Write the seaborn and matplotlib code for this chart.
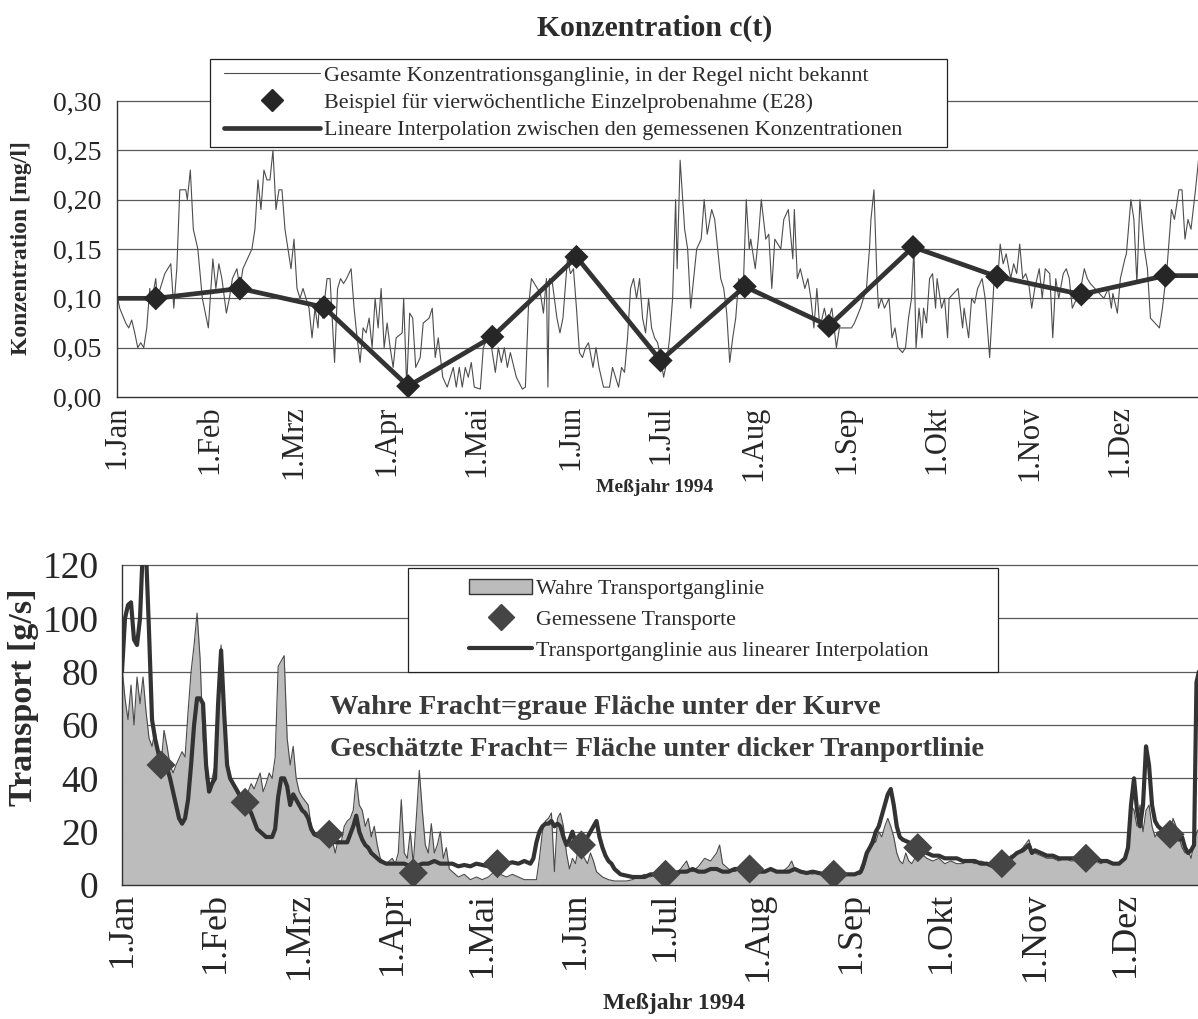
import matplotlib
matplotlib.use("Agg")
import matplotlib.pyplot as plt
from matplotlib.lines import Line2D
from matplotlib.patches import Patch
from matplotlib.legend_handler import HandlerLine2D, HandlerPatch
import pandas as pd
import seaborn as sns

# ---------------------------------------------------------------- data
month_starts = [0, 31, 59, 90, 120, 151, 181, 212, 243, 273, 304, 334]
month_labels = ["1.Jan", "1.Feb", "1.Mrz", "1.Apr", "1.Mai", "1.Jun",
                "1.Jul", "1.Aug", "1.Sep", "1.Okt", "1.Nov", "1.Dez"]

# four-weekly single samples (E28), day of year
sample_days = [13, 41, 69, 97, 125, 153, 181, 209, 237, 265, 293, 321, 349]
sample_conc = [0.100, 0.110, 0.091, 0.011, 0.061, 0.142, 0.037,
               0.112, 0.072, 0.152, 0.122, 0.104, 0.123]
sample_transport = [45, 31, 19, 4.5, 8, 15, 4, 6, 4, 14, 8, 10, 19]

# complete concentration hydrograph [mg/l]
conc_days = [
    0, 1, 3, 4, 5, 6, 7, 8, 9, 10, 11, 11.5, 13, 13.5, 14.5, 16, 18, 19, 20, 21,
    23, 23.5, 24.5, 25.5, 27, 28.5, 30.5, 32, 33, 34, 35, 36.5, 37.5, 38.5, 40, 41,
    42, 43.5, 45, 46, 47, 48, 49, 50, 51, 52, 53, 54, 55, 56, 57, 58, 59, 60, 61,
    62, 64, 65, 66, 67, 67.5, 68.5, 70, 71, 72.5, 73.5, 74.5, 75.5, 76.5, 78, 79,
    80, 81, 82, 83, 84, 85, 86, 87, 88, 89, 90, 91, 92, 93, 95, 95.5, 96.5, 97.5,
    98.5, 99.5, 101, 102, 104, 105, 106, 107, 108.5, 110, 112, 113, 114, 115, 116,
    117, 118, 119, 121, 122, 124, 125, 126, 127, 128, 129, 130, 131, 133, 135, 136,
    137, 138, 139, 140, 141, 142, 143, 143.5, 144, 145, 146.5, 147.5, 148.5, 150,
    151, 152, 153, 154, 155, 156, 157, 158.5, 159.5, 160.5, 162, 164, 165, 167, 168,
    169, 170, 171, 172, 173, 174, 175, 176, 177, 178, 179, 180, 181, 182, 183, 184,
    185, 186, 186.5, 187.5, 189, 190, 191, 192, 193, 194.5, 195.5, 196.5, 198, 199,
    200, 201, 202, 203, 204, 205, 206, 207, 208.5, 209.5, 210.5, 211, 212.5, 213.5,
    214.5, 216, 217, 218, 219, 220, 221, 222, 223.5, 225, 225.5, 226.5, 227.5, 229,
    230, 231, 232, 233, 234, 235.5, 236.5, 238, 239.5, 240.5, 242, 243.5, 244.5,
    245.5, 247.5, 248.5, 249.5, 250.5, 251, 252, 253, 253.5, 254.5, 255.5, 257, 258,
    259, 260, 261.5, 262.5, 263.5, 264.5, 265.3, 266, 267, 268, 268.5, 269.5, 270.5,
    271.5, 272.5, 273, 274.5, 275.5, 276.5, 277, 278.5, 280, 281.5, 282, 283.5,
    284.5, 285.5, 286.5, 288, 289, 290.5, 292, 293, 294, 295, 296, 297.5, 298.5,
    299.5, 300.5, 301.5, 302.5, 303.5, 304.5, 305.5, 307, 308, 309, 310.5, 311.5,
    312.5, 313.5, 315, 316, 317, 318, 319.5, 320.5, 322, 323, 324, 325.5, 327,
    328.5, 330, 331, 331.5, 333, 334, 335.5, 336, 337.5, 338.5, 339.5, 340.5, 342,
    343, 344, 345.5, 347, 348, 349.5, 351, 352, 353.5, 354.5, 355.5, 356.5, 357.5,
    359, 360, 361]
conc_vals = [
    0.105, 0.09, 0.075, 0.07, 0.078, 0.065, 0.05, 0.055, 0.05, 0.07, 0.11, 0.095,
    0.12, 0.10, 0.11, 0.125, 0.135, 0.09, 0.13, 0.21, 0.21, 0.20, 0.23, 0.17, 0.15,
    0.10, 0.07, 0.14, 0.11, 0.135, 0.12, 0.085, 0.10, 0.12, 0.13, 0.11, 0.13, 0.14,
    0.15, 0.17, 0.22, 0.19, 0.23, 0.22, 0.22, 0.25, 0.19, 0.21, 0.21, 0.17, 0.15,
    0.13, 0.16, 0.11, 0.10, 0.11, 0.09, 0.06, 0.09, 0.07, 0.10, 0.08, 0.12, 0.12,
    0.035, 0.11, 0.12, 0.115, 0.12, 0.13, 0.09, 0.06, 0.035, 0.07, 0.065, 0.08,
    0.05, 0.10, 0.07, 0.11, 0.05, 0.075, 0.05, 0.03, 0.06, 0.065, 0.10, 0.01, 0.085,
    0.08, 0.03, 0.04, 0.075, 0.08, 0.09, 0.04, 0.06, 0.02, 0.01, 0.03, 0.01, 0.03,
    0.01, 0.03, 0.02, 0.035, 0.01, 0.008, 0.05, 0.065, 0.045, 0.025, 0.05, 0.035,
    0.05, 0.03, 0.045, 0.02, 0.008, 0.01, 0.09, 0.12, 0.115, 0.11, 0.105, 0.085,
    0.12, 0.01, 0.12, 0.115, 0.08, 0.065, 0.08, 0.14, 0.125, 0.13, 0.09, 0.045, 0.04,
    0.05, 0.055, 0.03, 0.05, 0.03, 0.01, 0.01, 0.03, 0.01, 0.03, 0.025, 0.06, 0.11,
    0.12, 0.10, 0.12, 0.08, 0.065, 0.10, 0.07, 0.06, 0.055, 0.04, 0.02, 0.035, 0.06,
    0.10, 0.20, 0.13, 0.24, 0.17, 0.15, 0.09, 0.12, 0.15, 0.16, 0.20, 0.165, 0.19,
    0.18, 0.15, 0.12, 0.11, 0.085, 0.035, 0.06, 0.08, 0.12, 0.11, 0.20, 0.15, 0.16,
    0.13, 0.16, 0.20, 0.16, 0.165, 0.11, 0.16, 0.155, 0.15, 0.18, 0.19, 0.14, 0.19,
    0.12, 0.13, 0.11, 0.12, 0.10, 0.07, 0.11, 0.07, 0.09, 0.075, 0.09, 0.05, 0.07,
    0.07, 0.07, 0.07, 0.075, 0.09, 0.10, 0.11, 0.15, 0.18, 0.21, 0.12, 0.09, 0.10,
    0.09, 0.10, 0.06, 0.07, 0.05, 0.045, 0.05, 0.08, 0.10, 0.15, 0.05, 0.09, 0.06,
    0.09, 0.075, 0.12, 0.125, 0.09, 0.12, 0.09, 0.10, 0.06, 0.10, 0.105, 0.11, 0.07,
    0.09, 0.06, 0.10, 0.095, 0.11, 0.12, 0.10, 0.04, 0.12, 0.11, 0.155, 0.135,
    0.145, 0.12, 0.135, 0.125, 0.155, 0.12, 0.125, 0.115, 0.09, 0.11, 0.13, 0.10,
    0.13, 0.125, 0.06, 0.12, 0.10, 0.125, 0.13, 0.12, 0.09, 0.10, 0.105, 0.13, 0.12,
    0.115, 0.11, 0.105, 0.10, 0.11, 0.09, 0.105, 0.085, 0.12, 0.14, 0.145, 0.20,
    0.18, 0.115, 0.20, 0.15, 0.13, 0.08, 0.075, 0.07, 0.09, 0.13, 0.19, 0.18, 0.21,
    0.21, 0.16, 0.18, 0.17, 0.21, 0.24, 0.15]

# linear interpolation between the samples, held constant at both ends
interp_days = [0] + sample_days + [365]
interp_conc = [sample_conc[0]] + sample_conc + [sample_conc[-1]]

# true transport hydrograph [g/s]
true_days = [
    0, 1, 2, 3, 4, 5, 6, 7, 8, 9, 10, 11, 12, 13, 14, 15, 16, 17, 18, 20, 21, 22,
    23, 24, 25, 26, 27, 28, 29, 30, 31, 32, 33, 34, 35, 36, 37, 38, 39, 40, 41, 42,
    43, 44, 46, 47, 48, 49, 50, 51, 52, 53, 54, 55, 56, 57, 58, 59, 60, 62, 63, 64,
    66, 68, 69, 70, 71, 72, 73, 74, 75, 76, 77, 78, 79, 80, 81, 82, 83, 84, 85, 86,
    88, 90, 91, 92, 93, 94, 95, 96, 97, 98, 99, 100, 101, 102, 103, 104, 105, 106,
    107, 108, 109, 110, 112, 114, 116, 118, 120, 122, 124, 126, 128, 130, 132, 134,
    136, 138, 139, 140, 141, 142, 143, 144, 145, 146, 147, 148, 149, 150, 151, 152,
    153, 154, 155, 156, 157, 158, 159, 160, 162, 164, 166, 168, 170, 172, 174, 176,
    178, 180, 181, 182, 184, 186, 188, 189, 190, 192, 194, 196, 198, 199, 200, 202,
    204, 206, 208, 209, 210, 212, 214, 216, 218, 220, 222, 223, 224, 226, 228, 230,
    232, 234, 236, 237, 238, 240, 242, 244, 246, 247, 248, 249, 250, 251, 252, 253,
    254, 255, 256, 257, 258, 259, 260, 261, 262, 263, 264, 265, 266, 268, 270, 272,
    274, 276, 278, 280, 282, 284, 286, 288, 290, 292, 293, 294, 296, 298, 300, 302,
    303, 304, 306, 308, 310, 312, 314, 316, 318, 320, 321, 322, 324, 326, 328, 330,
    332, 333, 334, 335, 336, 337, 338, 339, 340, 341, 342, 343, 344, 345, 346, 347,
    348, 349, 350, 351, 352, 353, 354, 355, 356, 357, 358, 359]
true_vals = [
    82, 70, 62, 75, 60, 78, 68, 78, 65, 55, 52, 58, 50, 45, 58, 52, 45, 42, 45, 50,
    48, 65, 80, 90, 102, 85, 55, 40, 35, 40, 45, 70, 90, 60, 45, 40, 38, 37, 35, 32,
    33, 35, 38, 36, 42, 35, 38, 42, 40, 48, 82, 84, 86, 55, 45, 52, 40, 35, 33, 30,
    22, 20, 18, 17, 18, 17, 12, 17, 16, 22, 24, 25, 28, 40, 30, 28, 22, 25, 18, 22,
    15, 10, 8, 10, 8, 12, 32, 12, 10, 20, 8, 25, 43, 28, 15, 12, 23, 12, 15, 20, 10,
    14, 6, 5, 3, 4, 2, 3, 2, 3, 5, 4, 3, 4, 3, 2, 2, 2, 10, 20, 24, 25, 27, 5, 25,
    27, 22, 12, 6, 10, 8, 14, 12, 10, 8, 12, 9, 5, 4, 3, 2, 1.5, 1.5, 1.5, 2, 3, 4,
    3, 4, 3, 4, 3.5, 4, 6, 9, 6, 5, 7, 10, 9, 12, 15, 8, 6, 5, 6, 5, 6, 6, 5, 5, 6,
    5, 5, 7, 9, 6, 5, 5, 4, 5, 4, 4, 4, 4, 4, 4, 4, 4, 6, 10, 15, 18, 16, 20, 18,
    22, 25, 22, 18, 12, 9, 8, 12, 9, 8, 10, 14, 12, 10, 9, 10, 8, 9, 8, 8, 9, 8, 9,
    8, 7, 7, 8, 9, 11, 12, 14, 17, 13, 12, 11, 10, 10, 9, 10, 9, 9, 10, 10, 10, 9,
    8, 9, 8, 8, 9, 10, 15, 30, 28, 22, 30, 20, 28, 30, 22, 18, 20, 18, 17, 18, 19,
    25, 22, 18, 14, 12, 13, 10, 16, 20, 22]

# transport estimated from the interpolated concentrations [g/s]
est_days = [
    0, 1, 2, 3, 4, 5, 6, 7, 8, 9, 10, 11, 12, 13, 14, 15, 16, 17, 18, 19, 20, 21,
    22, 23, 24, 25, 26, 27, 28, 29, 30, 31, 32, 33, 34, 35, 36, 37, 38, 39, 40, 41,
    42, 43, 44, 45, 46, 47, 48, 49, 50, 51, 52, 53, 54, 55, 56, 57, 58, 59, 60, 61,
    62, 63, 64, 66, 68, 69, 70, 71, 72, 74, 75, 76, 77, 78, 79, 80, 81, 82, 83, 84,
    85, 86, 88, 90, 92, 94, 96, 97, 98, 100, 102, 104, 106, 108, 110, 112, 114, 116,
    118, 120, 122, 124, 125, 126, 128, 130, 132, 134, 136, 137, 138, 139, 140, 141,
    142, 143, 144, 145, 146, 147, 148, 149, 150, 151, 152, 153, 154, 155, 156, 157,
    158, 159, 160, 161, 162, 163, 164, 165, 166, 168, 170, 172, 174, 176, 178, 180,
    181, 182, 184, 186, 188, 190, 192, 194, 196, 198, 200, 202, 204, 206, 208, 209,
    210, 212, 214, 216, 218, 220, 222, 224, 226, 228, 230, 232, 234, 236, 237, 238,
    240, 242, 244, 246, 247, 248, 249, 250, 251, 252, 253, 254, 255, 256, 257, 258,
    259, 260, 262, 264, 265, 266, 268, 270, 272, 274, 276, 278, 280, 282, 284, 286,
    288, 290, 292, 293, 294, 296, 298, 300, 302, 303, 304, 306, 308, 310, 312, 314,
    316, 318, 320, 321, 322, 324, 326, 328, 330, 332, 333, 334, 335, 336, 337, 338,
    339, 340, 341, 342, 343, 344, 345, 346, 347, 348, 349, 350, 351, 352, 353, 354,
    355, 356, 357, 357.8, 358.6]
est_vals = [
    80, 100, 105, 106, 92, 90, 100, 128, 125, 95, 62, 55, 50, 45, 47, 44, 40, 35,
    30, 25, 23, 25, 32, 45, 60, 70, 70, 68, 45, 35, 38, 40, 68, 88, 65, 45, 40, 38,
    36, 34, 33, 31, 29, 27, 24, 21, 20, 19, 18, 18, 18, 21, 33, 40, 40, 37, 30, 34,
    32, 30, 28, 27, 25, 21, 19, 18, 18, 19, 18, 16, 16, 16, 16, 19, 22, 26, 20, 17,
    15, 14, 12, 11, 10, 9, 8, 8, 8, 8, 7, 5, 7, 8, 8, 9, 8, 8, 8, 7, 7.5, 7, 8, 7.5,
    7, 8, 8, 9, 8, 8.5, 8, 9, 8, 10, 16, 20, 22, 23, 23, 24, 22, 23, 22, 18, 15, 17,
    20, 16, 15, 15, 16, 18, 20, 22, 24, 18, 14, 11, 9, 8, 6, 5, 4, 3.5, 3, 3, 3, 4,
    4, 4, 4, 4, 4.5, 5, 5, 6, 5, 5, 6, 6, 5, 5, 6, 6, 6, 6, 5.5, 5, 5, 6, 5, 5, 5,
    6, 5, 4.5, 5, 4.5, 4, 4, 4, 4, 4, 4, 4, 5, 8, 12, 14, 16, 20, 22, 26, 30, 34,
    36, 30, 22, 18, 17, 16, 14, 14, 13, 12, 11, 11, 10, 10, 10, 9, 9, 9, 8, 8, 7, 8,
    8, 9, 10, 12, 13, 15, 12, 13, 12, 11, 11, 10, 10, 10, 10, 10, 10, 11, 10, 9, 9,
    8, 8, 9, 10, 14, 30, 40, 28, 22, 30, 52, 45, 30, 24, 22, 21, 20, 19, 19, 22, 20,
    17, 18, 14, 12, 13, 15, 76, 80]

conc_ticks = [0.00, 0.05, 0.10, 0.15, 0.20, 0.25, 0.30]
transport_ticks = [0, 20, 40, 60, 80, 100, 120]

# ---------------------------------------------------------------- style
sns.set_style("white")
plt.rcParams["font.family"] = ["Liberation Serif", "DejaVu Serif"]
plt.rcParams["axes.linewidth"] = 1.0

W, H = 1198, 1019
fig = plt.figure(figsize=(W / 100, H / 100), dpi=100)

GRID = "#5a5a5a"
INK = "#2b2b2b"


def fx(px):
    return px / W


def fy(py):
    return 1 - py / H


def style_axis(ax, ticks, labels, ylim, xlim, ysize, xsize, ylen, ypad, xpad):
    ax.set_xlim(*xlim)
    ax.set_ylim(*ylim)
    ax.set_yticks(ticks)
    ax.set_yticklabels(labels, fontsize=ysize)
    ax.set_xticks(month_starts)
    ax.set_xticklabels(month_labels, rotation=90, fontsize=xsize, va="top")
    for t in ticks[1:]:
        ax.axhline(t, color=GRID, lw=0.9, zorder=0.5, clip_on=False)
    for s in ("top", "right"):
        ax.spines[s].set_visible(False)
    for s in ("left", "bottom"):
        ax.spines[s].set_color("#333333")
    ax.tick_params(axis="y", direction="out", length=ylen, width=1,
                   color="#333333", pad=ypad)
    ax.tick_params(axis="x", direction="out", length=5, width=1,
                   color="#333333", pad=xpad)
    ax.set_xlabel("")
    ax.set_ylabel("")


# ---------------------------------------------------------------- concentration
ax1 = fig.add_axes([fx(116.7), fy(397), fx(1198 - 116.7), (397 - 101) / H])
conc_df = pd.DataFrame({"Tag": conc_days, "c": conc_vals})
interp_df = pd.DataFrame({"Tag": interp_days, "c": interp_conc})
sample_df = pd.DataFrame({"Tag": sample_days, "c": sample_conc})

sns.lineplot(data=conc_df, x="Tag", y="c", ax=ax1, color="#4d4d4d",
             linewidth=0.8, estimator=None, sort=False, zorder=2)
sns.lineplot(data=interp_df, x="Tag", y="c", ax=ax1, color="#333333",
             linewidth=3.4, estimator=None, sort=False, zorder=3)
sns.scatterplot(data=sample_df, x="Tag", y="c", ax=ax1, marker="D", s=150,
                color="#262626", edgecolor="none", zorder=4)
style_axis(ax1, conc_ticks, [f"{v:.2f}".replace(".", ",") for v in conc_ticks],
           (0, 0.30), (0, (1198 - 116.7) / 3.005), 20, 22, 6, 5, 1)

fig.text(fx(655), fy(28), "Konzentration c(t)", ha="center", va="center",
         fontsize=21.4, fontweight="bold", color=INK)
fig.text(fx(22), fy(248), "Konzentration [mg/l]", ha="center", va="center",
         rotation=90, fontsize=17, fontweight="bold", color=INK)
fig.text(fx(655), fy(487), "Meßjahr 1994", ha="center", va="center",
         fontsize=14, fontweight="bold", color=INK)

top_handles = [
    Line2D([], [], color="#4d4d4d", lw=0.8),
    Line2D([], [], color="#262626", marker="D", ls="none", markersize=11),
    Line2D([], [], color="#333333", lw=3.4),
]
top_labels = [
    "Gesamte Konzentrationsganglinie, in der Regel nicht bekannt",
    "Beispiel für vierwöchentliche Einzelprobenahme (E28)",
    "Lineare Interpolation zwischen den gemessenen Konzentrationen",
]
leg1 = fig.legend(top_handles, top_labels, loc="upper left",
                  bbox_to_anchor=(fx(210), fy(148), fx(947 - 210), (148 - 59) / H),
                  bbox_transform=fig.transFigure, mode="expand", borderaxespad=0,
                  fontsize=15.9, handlelength=4.7, handletextpad=0.15,
                  labelspacing=0.3, borderpad=0.3, fancybox=False,
                  framealpha=1, edgecolor="#222222",
                  handler_map={Line2D: HandlerLine2D(xpad=0.35)})
leg1.get_frame().set_linewidth(0.9)
for t in leg1.get_texts():
    t.set_color(INK)

# ---------------------------------------------------------------- transport
ax2 = fig.add_axes([fx(122), fy(885), fx(1198 - 122), (885 - 565) / H])
true_df = pd.DataFrame({"Tag": true_days, "T": true_vals})
est_df = pd.DataFrame({"Tag": est_days, "T": est_vals})
meas_df = pd.DataFrame({"Tag": sample_days, "T": sample_transport})

ax2.fill_between(true_df["Tag"], true_df["T"], 0, color="#bcbcbc", lw=0, zorder=1)
sns.lineplot(data=true_df, x="Tag", y="T", ax=ax2, color="#4a4a4a",
             linewidth=0.8, estimator=None, sort=False, zorder=2)
sns.lineplot(data=est_df, x="Tag", y="T", ax=ax2, color="#333333",
             linewidth=3.0, estimator=None, sort=False, zorder=3)
sns.scatterplot(data=meas_df, x="Tag", y="T", ax=ax2, marker="D", s=220,
                color="#454545", edgecolor="none", zorder=4)
style_axis(ax2, transport_ticks, [str(v) for v in transport_ticks],
           (0, 120), (0, (1198 - 122) / 3.003), 27, 26, 10, 7, 0)

fig.text(fx(24), fy(697), "Transport [g/s]", ha="center", va="center",
         rotation=90, fontsize=24.5, fontweight="bold", color=INK)
fig.text(fx(674), fy(1003), "Meßjahr 1994", ha="center", va="center",
         fontsize=17, fontweight="bold", color=INK)
fig.text(fx(330), fy(707), "Wahre Fracht=graue Fläche unter der Kurve",
         ha="left", va="center", fontsize=20.5, fontweight="bold", color="#3a3a3a")
fig.text(fx(330), fy(750), "Geschätzte Fracht= Fläche unter dicker Tranportlinie",
         ha="left", va="center", fontsize=20.5, fontweight="bold", color="#3a3a3a")

bot_handles = [
    Patch(facecolor="#bcbcbc", edgecolor="#333333", linewidth=1.0),
    Line2D([], [], color="#454545", marker="D", ls="none", markersize=13),
    Line2D([], [], color="#333333", lw=3.0),
]
bot_labels = [
    "Wahre Transportganglinie",
    "Gemessene Transporte",
    "Transportganglinie aus linearer Interpolation",
]
leg2 = fig.legend(bot_handles, bot_labels, loc="upper left",
                  bbox_to_anchor=(fx(408), fy(677), fx(998 - 408), (677 - 568) / H),
                  bbox_transform=fig.transFigure, mode="expand", borderaxespad=0,
                  fontsize=15.8, handlelength=5.15, handleheight=0.65,
                  handletextpad=0.2, labelspacing=0.5, borderpad=0.5,
                  fancybox=False, framealpha=1, edgecolor="#222222",
                  handler_map={Line2D: HandlerLine2D(xpad=2.3),
                               Patch: HandlerPatch(xpad=2.3)})
leg2.get_frame().set_linewidth(0.9)
for t in leg2.get_texts():
    t.set_color(INK)

fig.savefig("out.png", dpi=100, facecolor="white")
